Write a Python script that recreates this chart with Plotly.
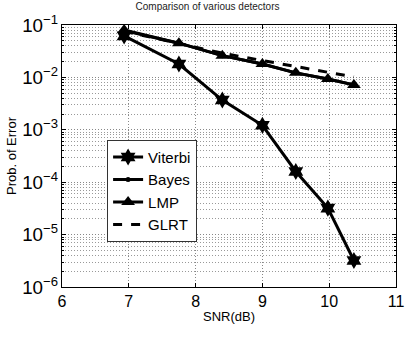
import plotly.graph_objects as go

snr = [6.93, 7.75, 8.4, 9.0, 9.5, 9.98, 10.37]
viterbi = [0.062, 0.018, 0.0037, 0.00122, 1.6e-4, 3.2e-5, 3.2e-6]
bayes = [0.078, 0.045, 0.026, 0.018, 0.0122, 0.0093, 0.0072]
lmp = [0.08, 0.045, 0.026, 0.018, 0.0122, 0.0093, 0.0072]
glrt = [0.076, 0.045, 0.029, 0.021, 0.016, 0.0127, 0.0102]

font = "Liberation Sans, Arial, sans-serif"
fig = go.Figure()
fig.add_trace(go.Scatter(x=snr, y=viterbi, name="Viterbi", mode="lines+markers",
                         line=dict(color="black", width=3),
                         marker=dict(symbol="hexagram", size=13, color="black")))
fig.add_trace(go.Scatter(x=snr, y=bayes, name="Bayes", mode="lines+markers",
                         line=dict(color="black", width=3),
                         marker=dict(symbol="circle", size=5, color="black")))
fig.add_trace(go.Scatter(x=snr, y=lmp, name="LMP", mode="lines+markers",
                         line=dict(color="black", width=3),
                         marker=dict(symbol="triangle-up", size=12, color="black")))
fig.add_trace(go.Scatter(x=snr, y=glrt, name="GLRT", mode="lines",
                         line=dict(color="black", width=3, dash="dash")))

fig.update_layout(
    width=415, height=340,
    margin=dict(l=62, r=19, t=25, b=53),
    paper_bgcolor="white", plot_bgcolor="white",
    font=dict(family=font, color="black", size=14),
    title=dict(text="Comparison of various detectors", x=0.5, xanchor="center",
               y=0.99, yanchor="top", font=dict(size=10, color="#222")),
    showlegend=True,
    legend=dict(x=0.135, y=0.562, xanchor="left", yanchor="top",
                bgcolor="white", bordercolor="#333", borderwidth=1,
                font=dict(size=15), tracegroupgap=0, itemwidth=30),
)
fig.update_xaxes(range=[6, 11], dtick=1, showline=True, linecolor="black", linewidth=1,
                 mirror="ticks", ticks="inside", ticklen=4, tickcolor="black",
                 showgrid=True, gridcolor="#888", griddash="1px,2px", gridwidth=1,
                 zeroline=False, tickfont=dict(size=16), automargin=False,
                 title=dict(text="SNR(dB)", font=dict(size=13), standoff=2))
fig.update_yaxes(type="log", range=[-6, -1], dtick=1, exponentformat="power",
                 showline=True, linecolor="black", linewidth=1,
                 mirror="ticks", ticks="inside", ticklen=4, tickcolor="black",
                 showgrid=True, gridcolor="#888", griddash="1px,2px", gridwidth=1,
                 minor=dict(dtick="D1", showgrid=True, gridcolor="#999", griddash="1px,2px",
                            ticks="inside", ticklen=2, tickcolor="black"),
                 zeroline=False, tickfont=dict(size=15), automargin=False,
                 title=dict(text="Prob. of Error", font=dict(size=13), standoff=2))

fig.write_html("out.html", config={"displayModeBar": False},
               post_script="document.body.style.margin='0';document.body.style.overflow='hidden';")
